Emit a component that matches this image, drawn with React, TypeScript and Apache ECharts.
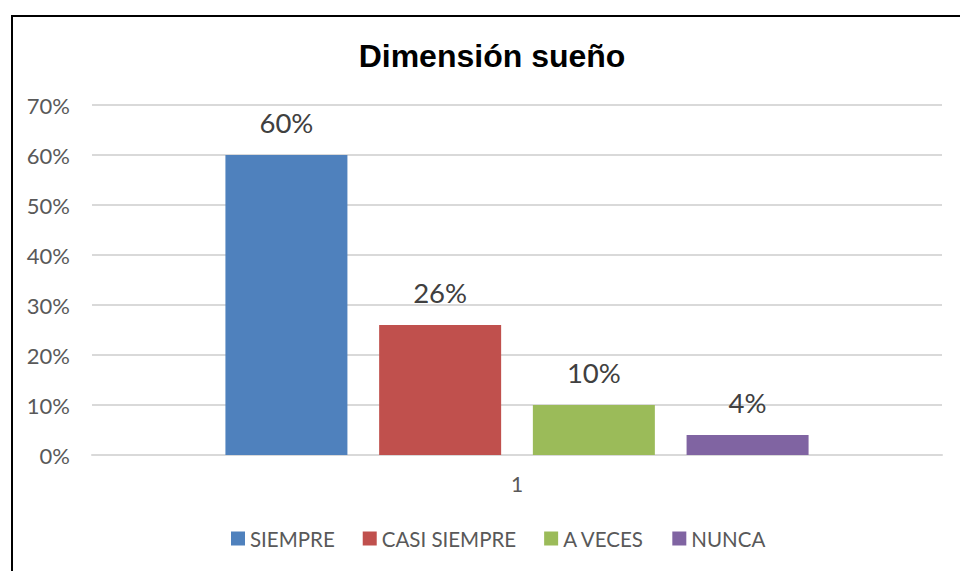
import React, { useEffect, useRef } from "react";
import * as echarts from "echarts";

const categories = ["1"];
const seriesNames = ["SIEMPRE", "CASI SIEMPRE", "A VECES", "NUNCA"];
const seriesValues = [0.6, 0.26, 0.1, 0.04];
const seriesColors = ["#4f81bd", "#c0504d", "#9bbb59", "#8064a2"];
const yTicks = { min: 0, max: 0.7, interval: 0.1 };
const titleText = "Dimensión sueño";

const pct = (v: number) => `${Math.round(v * 100)}%`;

export default function App() {
  const ref = useRef<HTMLDivElement>(null);
  useEffect(() => {
    if (!ref.current) return;
    const chart = echarts.init(ref.current, undefined, { renderer: "svg" });
    chart.setOption({
      animation: false,
      backgroundColor: "#ffffff",
      title: {
        text: titleText,
        left: 487,
        textAlign: "center",
        top: 35,
        textStyle: {
          fontFamily: "Liberation Sans, Arial, sans-serif",
          fontWeight: "bold",
          fontSize: 32,
          color: "#000000",
        },
      },
      graphic: [
        {
          type: "rect",
          shape: { x: 12, y: 16, width: 1000, height: 700 },
          style: { fill: "none", stroke: "#000000", lineWidth: 2 },
          silent: true,
        },
      ],
      grid: { left: 92, right: 18, top: 105, bottom: 116, containLabel: false },
      legend: {
        top: 523,
        left: 226,
        padding: [5, 5],
        icon: "rect",
        itemWidth: 14,
        itemHeight: 14,
        itemGap: 28,
        textStyle: { fontFamily: "Lato, sans-serif", fontSize: 20.5, color: "#595959" },
        data: seriesNames,
      },
      xAxis: {
        type: "category",
        data: categories,
        axisLine: { show: true, lineStyle: { color: "#d9d9d9", width: 2 } },
        axisTick: { show: false },
        axisLabel: { fontFamily: "Lato, sans-serif", fontSize: 21, color: "#595959", margin: 18 },
      },
      yAxis: {
        type: "value",
        min: yTicks.min,
        max: yTicks.max,
        interval: yTicks.interval,
        axisLine: { show: false },
        axisTick: { show: false },
        splitLine: { lineStyle: { color: "#d9d9d9", width: 2 } },
        axisLabel: {
          fontFamily: "Lato, sans-serif",
          fontSize: 22,
          color: "#595959",
          margin: 22,
          formatter: (v: number) => pct(v),
        },
      },
      series: seriesNames.map((name, i) => ({
        name,
        type: "bar",
        data: [seriesValues[i]],
        barWidth: 122,
        barGap: "26%",
        itemStyle: { color: seriesColors[i] },
        label: {
          show: true,
          position: "top",
          distance: 19,
          fontFamily: "Lato, sans-serif",
          fontSize: 27.5,
          color: "#404040",
          formatter: (p: any) => pct(p.value),
        },
      })),
    });
    return () => chart.dispose();
  }, []);
  return (
    <div
      ref={ref}
      style={{ position: "fixed", left: 0, top: 0, width: 960, height: 571 }}
    />
  );
}
